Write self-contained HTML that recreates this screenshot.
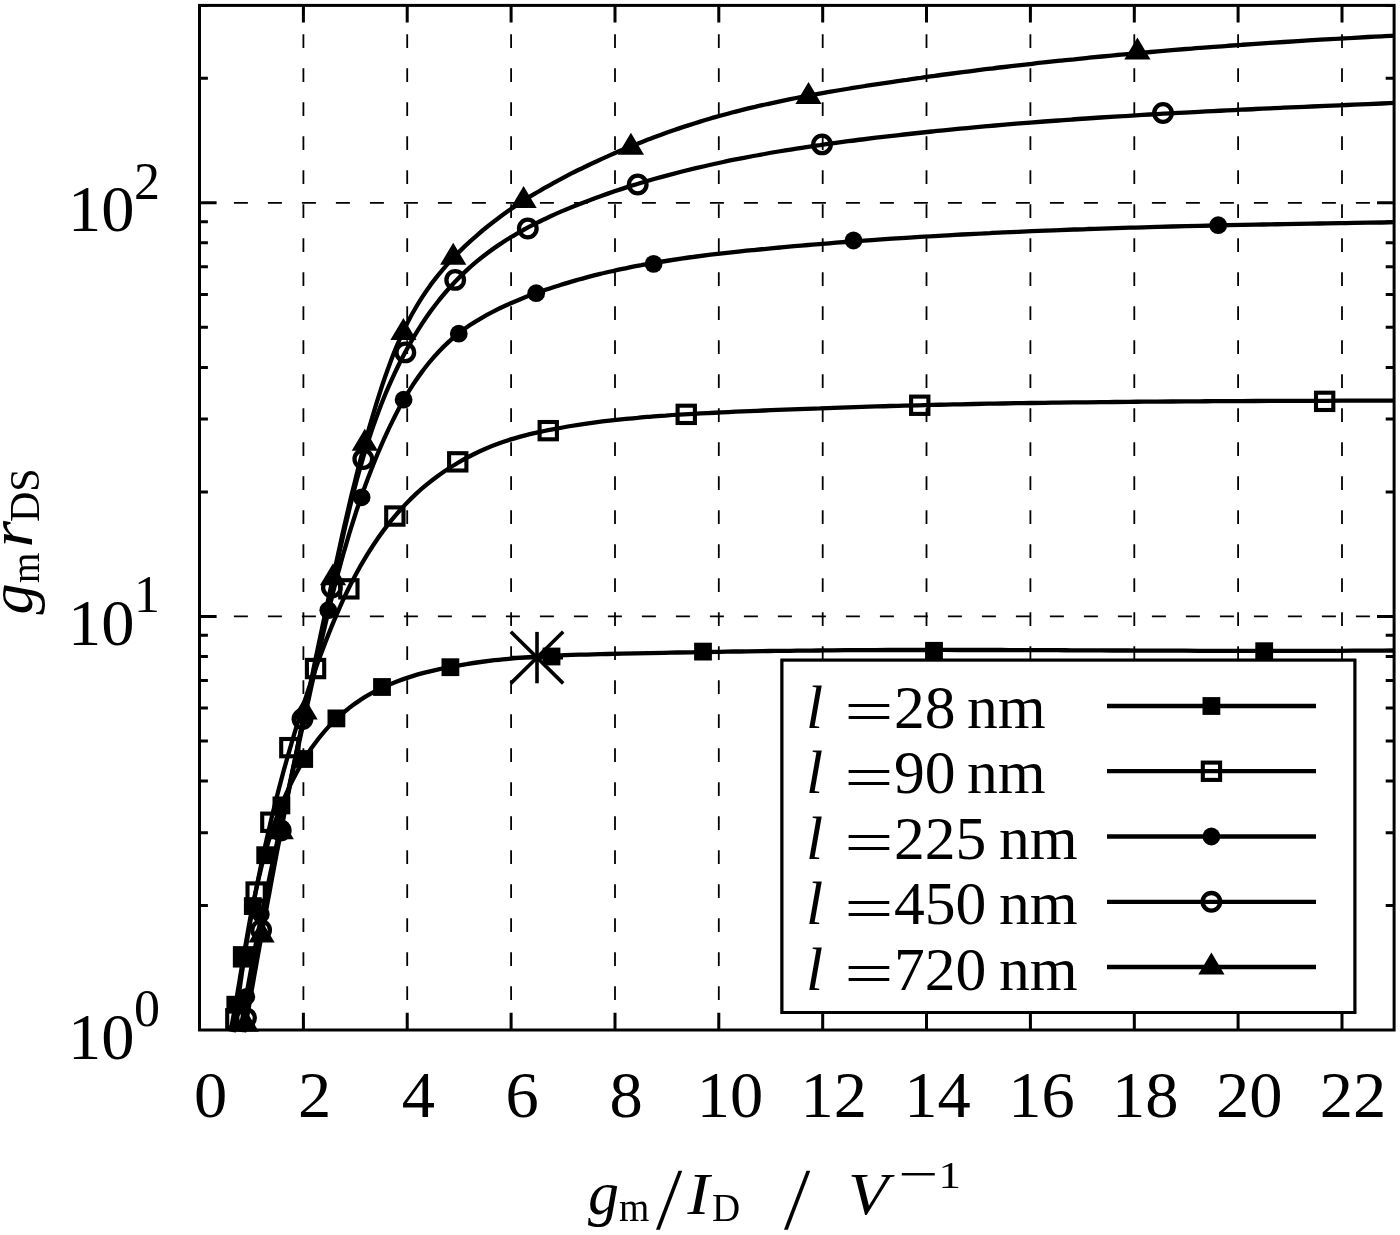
<!DOCTYPE html>
<html lang="en"><head><meta charset="utf-8"><title>gm rDS versus gm/ID</title>
<style>html,body{margin:0;padding:0;background:#fff}svg{display:block}text{font-family:"Liberation Serif",serif;fill:#000}.it{font-style:italic}</style></head><body>
<svg width="1400" height="1235" viewBox="0 0 1400 1235">
<rect x="0" y="0" width="1400" height="1235" fill="#fff"/>
<g stroke="#000" stroke-width="1.8" fill="none">
<g stroke-dasharray="13.8 20.2" stroke-dashoffset="5.1">
<path d="M303.4 5.4V1030"/>
<path d="M407.2 5.4V1030"/>
<path d="M511.1 5.4V1030"/>
<path d="M615 5.4V1030"/>
<path d="M718.8 5.4V1030"/>
<path d="M822.7 5.4V1030"/>
<path d="M926.5 5.4V1030"/>
<path d="M1030.4 5.4V1030"/>
<path d="M1134.3 5.4V1030"/>
<path d="M1238.1 5.4V1030"/>
<path d="M1342 5.4V1030"/>
</g><g stroke-dasharray="14 20">
<path d="M199.9 616.4H1394.1"/>
<path d="M199.9 202.8H1394.1"/>
</g></g>
<clipPath id="cp"><rect x="199.5" y="5.4" width="1194.6" height="1036.6"/></clipPath>
<g clip-path="url(#cp)">
<g stroke="#000" stroke-width="4.3" fill="none" stroke-linejoin="round">
<path d="M230.5 1031.6C231.4 1027 232.3 1022.5 233.1 1017.9C233.9 1013.3 234.8 1008.7 235.6 1004.1C236.4 999.5 237.2 994.9 237.9 990.3C238.7 985.7 239.5 981.1 240.2 976.5C241 971.8 241.8 967.2 242.5 962.6C243.3 957.9 244.1 953.3 244.9 948.7C245.7 944 246.5 939.4 247.3 934.8C248.1 930.2 248.9 925.5 249.8 920.9C250.6 916.3 251.5 911.7 252.4 907.1C253.4 902.5 254.3 897.9 255.3 893.3C256.3 888.7 257.3 884.1 258.4 879.5C259.5 874.9 260.6 870.4 261.7 865.8C262.9 861.3 264.1 856.7 265.4 852.2C266.7 847.7 268 843.1 269.4 838.7C270.8 834.2 272.3 829.7 273.9 825.2C275.4 820.8 277 816.3 278.7 811.9C280.4 807.5 282.2 803.1 284.1 798.7C285.9 794.4 287.9 790 289.9 785.7C292 781.4 294.1 777.2 296.4 773C298.6 768.8 300.9 764.7 303.4 760.7C305.8 756.6 308.4 752.7 311 748.8C313.7 745 316.5 741.2 319.4 737.5C322.3 733.9 325.3 730.3 328.5 726.9C331.6 723.5 334.9 720.2 338.3 717.1C341.7 714 345.2 711 348.9 708.2C352.5 705.3 356.3 702.6 360.2 700.1C364 697.5 368 695.1 372.1 692.9C376.2 690.6 380.4 688.6 384.6 686.6C388.9 684.7 393.2 682.9 397.6 681.2C402 679.5 406.5 678 411 676.6C415.5 675.2 420 673.9 424.6 672.7C429.2 671.5 433.9 670.4 438.5 669.4C443.1 668.3 447.8 667.4 452.5 666.5C457.1 665.6 461.8 664.8 466.5 664.1C471.1 663.3 475.8 662.6 480.5 662C485.2 661.4 489.9 660.8 494.5 660.2C499.2 659.7 503.9 659.2 508.6 658.8C513.3 658.3 518 657.9 522.7 657.6C527.4 657.2 532.1 656.9 536.8 656.6C541.5 656.3 546.2 656.1 550.9 655.8C555.6 655.6 560.3 655.4 565 655.2C569.7 655 574.4 654.9 579.1 654.7C583.8 654.6 588.5 654.5 593.2 654.3C597.9 654.2 602.6 654.1 607.3 654C612 653.9 616.7 653.8 621.3 653.7C626 653.6 630.7 653.5 635.4 653.4C640.1 653.3 644.8 653.2 649.5 653.1C654.2 653 658.9 652.9 663.6 652.8C668.3 652.7 673 652.6 677.7 652.5C682.3 652.4 687 652.3 691.7 652.3C696.4 652.2 701.1 652.1 705.8 652C710.5 651.9 715.2 651.8 719.8 651.8C724.5 651.7 729.2 651.6 733.9 651.5C738.6 651.5 743.3 651.4 748 651.3C752.6 651.2 757.3 651.2 762 651.1C766.7 651 771.4 651 776.1 650.9C780.8 650.9 785.4 650.8 790.1 650.8C794.8 650.7 799.5 650.7 804.2 650.6C808.9 650.6 813.6 650.5 818.3 650.5C823 650.4 827.6 650.4 832.3 650.3C837 650.3 841.7 650.3 846.4 650.2C851.1 650.2 855.8 650.2 860.5 650.2C865.2 650.1 869.9 650.1 874.6 650.1C879.3 650.1 883.9 650.1 888.6 650C893.3 650 898 650 902.7 650C907.4 650 912.1 650 916.8 650C921.5 650 926.2 650 930.9 650C935.6 649.9 940.3 649.9 945 649.9C949.7 649.9 954.4 649.9 959.1 650C963.8 650 968.5 650 973.2 650C977.9 650 982.6 650 987.3 650C992 650 996.7 650 1001.4 650C1006.1 650 1010.8 650.1 1015.5 650.1C1020.2 650.1 1024.9 650.1 1029.6 650.1C1034.3 650.1 1039 650.1 1043.7 650.2C1048.4 650.2 1053.1 650.2 1057.8 650.2C1062.5 650.2 1067.2 650.3 1071.9 650.3C1076.6 650.3 1081.3 650.3 1086 650.3C1090.7 650.4 1095.4 650.4 1100.1 650.4C1104.8 650.4 1109.5 650.4 1114.2 650.5C1118.9 650.5 1123.6 650.5 1128.3 650.5C1133 650.5 1137.7 650.6 1142.4 650.6C1147.2 650.6 1151.9 650.6 1156.6 650.6C1161.3 650.7 1166 650.7 1170.7 650.7C1175.4 650.7 1180.1 650.7 1184.8 650.7C1189.5 650.8 1194.2 650.8 1198.9 650.8C1203.6 650.8 1208.3 650.8 1213 650.8C1217.7 650.8 1222.3 650.9 1227 650.9C1231.7 650.9 1236.4 650.9 1241.1 650.9C1245.8 650.9 1250.5 650.9 1255.2 650.9C1259.9 650.9 1264.6 650.9 1269.3 650.9C1274 650.9 1278.7 650.9 1283.4 650.9C1288.1 650.9 1292.8 650.9 1297.5 650.9C1302.2 650.9 1306.9 650.9 1311.6 650.9C1316.3 650.9 1320.9 650.9 1325.6 650.9C1330.3 650.8 1335 650.8 1339.7 650.8C1344.4 650.8 1349.1 650.8 1353.8 650.7C1358.5 650.7 1363.2 650.7 1367.8 650.7C1372.5 650.6 1377.2 650.6 1381.9 650.6C1386.6 650.5 1391.3 650.5 1396 650.5"/>
<path d="M234 1032.3C234.6 1027.6 235.1 1022.8 235.7 1018.1C236.3 1013.4 237 1008.7 237.6 1004.1C238.2 999.4 238.8 994.7 239.5 990C240.2 985.3 240.8 980.7 241.5 976C242.2 971.4 242.9 966.7 243.6 962.1C244.3 957.4 245.1 952.8 245.8 948.1C246.5 943.5 247.3 938.9 248.1 934.3C248.9 929.7 249.7 925 250.5 920.4C251.3 915.8 252.1 911.2 252.9 906.6C253.8 902 254.7 897.5 255.5 892.9C256.4 888.3 257.3 883.7 258.2 879.1C259.1 874.6 260.1 870 261 865.4C262 860.9 262.9 856.3 263.9 851.8C264.9 847.2 265.9 842.7 266.9 838.1C268 833.6 269 829.1 270.1 824.5C271.1 820 272.2 815.5 273.3 810.9C274.4 806.4 275.6 801.9 276.7 797.4C277.8 792.9 279 788.4 280.2 783.9C281.4 779.3 282.6 774.8 283.8 770.3C285.1 765.8 286.3 761.3 287.6 756.8C288.9 752.3 290.2 747.9 291.5 743.4C292.8 738.9 294.1 734.4 295.5 729.9C296.9 725.4 298.3 720.9 299.7 716.5C301.1 712 302.5 707.5 304 703C305.4 698.6 306.9 694.1 308.4 689.6C309.9 685.1 311.5 680.7 313 676.2C314.6 671.7 316.1 667.3 317.7 662.8C319.4 658.3 321 653.9 322.7 649.4C324.3 645 326 640.5 327.8 636.1C329.5 631.7 331.3 627.3 333.1 622.9C334.9 618.5 336.8 614.2 338.7 609.8C340.6 605.5 342.5 601.2 344.5 596.9C346.6 592.7 348.6 588.4 350.7 584.2C352.9 580 355 575.9 357.3 571.7C359.5 567.6 361.8 563.6 364.2 559.6C366.6 555.6 369 551.6 371.6 547.7C374.1 543.8 376.7 540 379.3 536.2C382 532.4 384.8 528.7 387.6 525.1C390.4 521.4 393.4 517.9 396.4 514.4C399.4 510.9 402.5 507.5 405.7 504.1C408.9 500.8 412.2 497.5 415.5 494.4C418.9 491.2 422.4 488.1 426 485.2C429.6 482.2 433.3 479.3 437.1 476.5C440.9 473.8 444.7 471.1 448.7 468.5C452.6 465.9 456.7 463.5 460.7 461.1C464.8 458.8 469 456.6 473.2 454.5C477.5 452.3 481.8 450.3 486.1 448.5C490.4 446.6 494.8 444.9 499.3 443.3C503.7 441.7 508.2 440.2 512.7 438.9C517.2 437.5 521.7 436.3 526.3 435.1C530.8 433.9 535.4 432.9 540 431.9C544.6 430.9 549.2 429.9 553.8 429.1C558.4 428.2 563.1 427.3 567.7 426.5C572.3 425.8 576.9 425 581.6 424.3C586.2 423.6 590.8 423 595.5 422.3C600.1 421.7 604.8 421.2 609.4 420.6C614.1 420.1 618.7 419.6 623.4 419.1C628 418.6 632.7 418.2 637.4 417.8C642 417.3 646.7 417 651.4 416.6C656 416.2 660.7 415.9 665.4 415.6C670 415.2 674.7 414.9 679.4 414.7C684.1 414.4 688.8 414.1 693.4 413.8C698.1 413.6 702.8 413.3 707.5 413.1C712.2 412.9 716.8 412.6 721.5 412.4C726.2 412.2 730.9 411.9 735.6 411.7C740.3 411.5 744.9 411.3 749.6 411.1C754.3 410.9 759 410.7 763.7 410.5C768.4 410.3 773 410.1 777.7 409.9C782.4 409.7 787.1 409.5 791.8 409.3C796.4 409.1 801.1 409 805.8 408.8C810.5 408.6 815.2 408.4 819.9 408.3C824.5 408.1 829.2 407.9 833.9 407.8C838.6 407.6 843.3 407.5 847.9 407.3C852.6 407.2 857.3 407 862 406.9C866.7 406.7 871.4 406.6 876 406.4C880.7 406.3 885.4 406.2 890.1 406C894.8 405.9 899.4 405.8 904.1 405.6C908.8 405.5 913.5 405.4 918.2 405.3C922.9 405.2 927.5 405 932.2 404.9C936.9 404.8 941.6 404.7 946.3 404.6C951 404.5 955.6 404.4 960.3 404.3C965 404.2 969.7 404.1 974.4 404C979 403.9 983.7 403.8 988.4 403.7C993.1 403.7 997.8 403.6 1002.5 403.5C1007.1 403.4 1011.8 403.3 1016.5 403.2C1021.2 403.2 1025.9 403.1 1030.6 403C1035.2 402.9 1039.9 402.9 1044.6 402.8C1049.3 402.7 1054 402.7 1058.7 402.6C1063.3 402.5 1068 402.5 1072.7 402.4C1077.4 402.4 1082.1 402.3 1086.8 402.3C1091.4 402.2 1096.1 402.2 1100.8 402.1C1105.5 402.1 1110.2 402 1114.9 402C1119.5 401.9 1124.2 401.9 1128.9 401.8C1133.6 401.8 1138.3 401.7 1143 401.7C1147.6 401.7 1152.3 401.6 1157 401.6C1161.7 401.5 1166.4 401.5 1171.1 401.5C1175.7 401.4 1180.4 401.4 1185.1 401.4C1189.8 401.3 1194.5 401.3 1199.2 401.3C1203.9 401.3 1208.5 401.2 1213.2 401.2C1217.9 401.2 1222.6 401.2 1227.3 401.1C1232 401.1 1236.7 401.1 1241.3 401.1C1246 401 1250.7 401 1255.4 401C1260.1 401 1264.8 401 1269.5 400.9C1274.1 400.9 1278.8 400.9 1283.5 400.9C1288.2 400.9 1292.9 400.9 1297.6 400.8C1302.3 400.8 1307 400.8 1311.6 400.8C1316.3 400.8 1321 400.8 1325.7 400.8C1330.4 400.7 1335.1 400.7 1339.8 400.7C1344.5 400.7 1349.1 400.7 1353.8 400.7C1358.5 400.7 1363.2 400.7 1367.9 400.6C1372.6 400.6 1377.3 400.6 1382 400.6C1386.6 400.6 1391.3 400.6 1396 400.6"/>
<path d="M240.3 1031.9C241 1027.3 241.8 1022.7 242.5 1018.1C243.3 1013.5 244 1008.9 244.8 1004.3C245.6 999.7 246.4 995.1 247.2 990.5C248 985.9 248.8 981.3 249.7 976.8C250.5 972.2 251.4 967.6 252.2 963C253.1 958.4 254 953.8 254.8 949.2C255.7 944.7 256.6 940.1 257.5 935.5C258.4 930.9 259.3 926.3 260.3 921.8C261.2 917.2 262.1 912.6 263.1 908C264 903.5 264.9 898.9 265.9 894.3C266.9 889.7 267.8 885.2 268.8 880.6C269.8 876 270.7 871.4 271.7 866.9C272.7 862.3 273.7 857.7 274.7 853.2C275.7 848.6 276.7 844 277.7 839.5C278.7 834.9 279.7 830.3 280.7 825.8C281.7 821.2 282.7 816.6 283.7 812.1C284.7 807.5 285.7 802.9 286.7 798.4C287.7 793.8 288.8 789.3 289.8 784.7C290.8 780.1 291.8 775.6 292.8 771C293.8 766.4 294.9 761.9 295.9 757.3C296.9 752.8 297.9 748.2 298.9 743.6C299.9 739.1 300.9 734.5 301.9 730C302.9 725.4 303.9 720.8 304.9 716.3C305.9 711.7 306.9 707.2 307.9 702.6C308.9 698 309.9 693.5 310.9 688.9C311.9 684.4 312.9 679.8 313.9 675.2C314.9 670.7 315.9 666.1 316.9 661.6C317.9 657 318.9 652.5 319.9 647.9C321 643.4 322 638.8 323 634.3C324.1 629.8 325.1 625.2 326.2 620.7C327.3 616.2 328.4 611.6 329.5 607.1C330.6 602.6 331.7 598 332.8 593.5C333.9 589 335.1 584.5 336.3 580C337.4 575.5 338.6 571 339.9 566.5C341.1 562 342.3 557.5 343.6 553C344.9 548.5 346.2 544.1 347.5 539.6C348.8 535.1 350.2 530.6 351.6 526.2C353 521.7 354.4 517.3 355.8 512.8C357.3 508.4 358.8 504 360.3 499.5C361.9 495.1 363.4 490.7 365 486.3C366.6 481.9 368.3 477.5 370 473.1C371.6 468.7 373.4 464.3 375.1 460C376.9 455.6 378.7 451.2 380.6 446.9C382.5 442.5 384.4 438.2 386.4 433.9C388.3 429.6 390.4 425.3 392.5 421.1C394.6 416.9 396.7 412.7 398.9 408.5C401.2 404.4 403.5 400.3 405.9 396.2C408.2 392.2 410.7 388.2 413.2 384.4C415.8 380.5 418.4 376.7 421.2 372.9C423.9 369.2 426.7 365.6 429.6 362C432.5 358.5 435.6 355 438.7 351.7C441.8 348.4 445.1 345.2 448.4 342.1C451.8 339 455.3 336 458.9 333.2C462.5 330.4 466.2 327.7 470 325.1C473.8 322.5 477.8 320.1 481.8 317.8C485.8 315.4 489.9 313.2 494.1 311.1C498.2 308.9 502.5 306.9 506.8 305C511.1 303 515.4 301.2 519.8 299.4C524.2 297.6 528.6 295.9 533 294.3C537.4 292.6 541.9 291.1 546.3 289.5C550.8 288 555.3 286.6 559.7 285.2C564.2 283.8 568.7 282.4 573.2 281.1C577.7 279.8 582.2 278.6 586.7 277.4C591.2 276.2 595.8 275 600.3 273.9C604.8 272.8 609.4 271.8 613.9 270.8C618.5 269.7 623.1 268.8 627.6 267.8C632.2 266.9 636.8 266 641.4 265.2C645.9 264.3 650.5 263.5 655.1 262.7C659.7 261.9 664.3 261.2 668.9 260.5C673.6 259.8 678.2 259.1 682.8 258.4C687.4 257.7 692 257.1 696.7 256.5C701.3 255.9 705.9 255.3 710.6 254.7C715.2 254.2 719.8 253.6 724.5 253.1C729.1 252.6 733.8 252.1 738.4 251.6C743 251.1 747.7 250.6 752.3 250.2C757 249.7 761.6 249.2 766.3 248.8C770.9 248.4 775.6 247.9 780.2 247.5C784.9 247.1 789.6 246.6 794.2 246.2C798.9 245.8 803.5 245.4 808.2 245C812.8 244.6 817.5 244.2 822.1 243.9C826.8 243.5 831.4 243.1 836.1 242.7C840.7 242.4 845.4 242 850.1 241.7C854.7 241.3 859.4 241 864 240.6C868.7 240.3 873.3 240 878 239.6C882.7 239.3 887.3 239 892 238.7C896.6 238.4 901.3 238.1 906 237.8C910.6 237.5 915.3 237.2 919.9 236.9C924.6 236.6 929.3 236.3 933.9 236.1C938.6 235.8 943.2 235.5 947.9 235.3C952.6 235 957.2 234.8 961.9 234.5C966.5 234.3 971.2 234 975.9 233.8C980.5 233.5 985.2 233.3 989.9 233.1C994.5 232.8 999.2 232.6 1003.8 232.4C1008.5 232.2 1013.2 232 1017.8 231.8C1022.5 231.6 1027.2 231.4 1031.8 231.2C1036.5 231 1041.2 230.8 1045.8 230.6C1050.5 230.4 1055.2 230.2 1059.8 230.1C1064.5 229.9 1069.2 229.7 1073.8 229.5C1078.5 229.4 1083.1 229.2 1087.8 229C1092.5 228.9 1097.1 228.7 1101.8 228.6C1106.5 228.4 1111.2 228.3 1115.8 228.1C1120.5 228 1125.2 227.8 1129.8 227.7C1134.5 227.5 1139.2 227.4 1143.8 227.3C1148.5 227.1 1153.2 227 1157.8 226.9C1162.5 226.8 1167.2 226.6 1171.8 226.5C1176.5 226.4 1181.2 226.3 1185.8 226.2C1190.5 226.1 1195.2 225.9 1199.8 225.8C1204.5 225.7 1209.2 225.6 1213.9 225.5C1218.5 225.4 1223.2 225.3 1227.9 225.2C1232.5 225.1 1237.2 225 1241.9 224.9C1246.5 224.8 1251.2 224.7 1255.9 224.6C1260.6 224.5 1265.2 224.5 1269.9 224.4C1274.6 224.3 1279.2 224.2 1283.9 224.1C1288.6 224 1293.3 223.9 1297.9 223.9C1302.6 223.8 1307.3 223.7 1311.9 223.6C1316.6 223.5 1321.3 223.5 1326 223.4C1330.6 223.3 1335.3 223.2 1340 223.1C1344.6 223.1 1349.3 223 1354 222.9C1358.6 222.8 1363.3 222.8 1368 222.7C1372.7 222.6 1377.3 222.5 1382 222.5C1386.7 222.4 1391.3 222.3 1396 222.2"/>
<path d="M243.9 1032.2C244.6 1027.6 245.3 1022.9 246 1018.2C246.8 1013.5 247.5 1008.8 248.3 1004.2C249 999.5 249.8 994.8 250.6 990.2C251.3 985.5 252.1 980.9 252.9 976.2C253.7 971.6 254.5 966.9 255.3 962.3C256.1 957.6 256.9 953 257.7 948.4C258.5 943.7 259.4 939.1 260.2 934.5C261 929.9 261.9 925.2 262.7 920.6C263.6 916 264.4 911.4 265.3 906.8C266.1 902.2 267 897.5 267.9 892.9C268.8 888.3 269.6 883.7 270.5 879.1C271.4 874.5 272.3 869.9 273.2 865.3C274.1 860.7 275 856.1 275.9 851.5C276.8 846.9 277.8 842.4 278.7 837.8C279.6 833.2 280.5 828.6 281.5 824C282.4 819.4 283.3 814.8 284.3 810.2C285.2 805.7 286.1 801.1 287.1 796.5C288 791.9 289 787.3 289.9 782.8C290.9 778.2 291.9 773.6 292.8 769C293.8 764.4 294.8 759.8 295.7 755.3C296.7 750.7 297.7 746.1 298.6 741.5C299.6 737 300.6 732.4 301.6 727.8C302.6 723.2 303.5 718.6 304.5 714C305.5 709.5 306.5 704.9 307.5 700.3C308.5 695.7 309.5 691.1 310.4 686.5C311.4 682 312.4 677.4 313.4 672.8C314.4 668.2 315.4 663.6 316.4 659C317.4 654.4 318.4 649.8 319.4 645.2C320.4 640.6 321.4 636 322.4 631.4C323.4 626.8 324.4 622.2 325.4 617.6C326.4 613 327.4 608.4 328.4 603.8C329.3 599.2 330.3 594.6 331.3 590C332.3 585.3 333.3 580.7 334.3 576.1C335.3 571.5 336.3 566.9 337.3 562.2C338.3 557.6 339.3 553 340.3 548.4C341.4 543.7 342.4 539.1 343.4 534.5C344.5 529.9 345.5 525.3 346.6 520.7C347.7 516.1 348.8 511.5 349.9 506.9C351 502.3 352.2 497.7 353.4 493.2C354.5 488.6 355.7 484 356.9 479.5C358.2 474.9 359.4 470.4 360.7 465.9C362 461.4 363.4 456.8 364.7 452.3C366.1 447.9 367.5 443.4 369 438.9C370.4 434.5 371.9 430 373.4 425.6C375 421.2 376.6 416.8 378.2 412.4C379.9 408 381.5 403.7 383.3 399.3C385 395 386.8 390.7 388.7 386.4C390.6 382.1 392.5 377.9 394.5 373.6C396.5 369.4 398.5 365.2 400.6 361C402.8 356.8 404.9 352.7 407.2 348.6C409.5 344.5 411.8 340.4 414.2 336.4C416.6 332.3 419.1 328.3 421.6 324.4C424.2 320.5 426.8 316.6 429.5 312.8C432.3 308.9 435.1 305.2 438 301.5C440.8 297.8 443.8 294.2 446.9 290.7C449.9 287.2 453.1 283.7 456.3 280.4C459.6 277 462.9 273.8 466.3 270.6C469.7 267.4 473.3 264.3 476.8 261.4C480.4 258.4 484.1 255.5 487.8 252.7C491.6 249.9 495.4 247.2 499.3 244.6C503.1 242 507.1 239.5 511.1 237C515.1 234.6 519.2 232.3 523.3 230C527.4 227.7 531.6 225.5 535.8 223.4C540 221.3 544.2 219.2 548.5 217.2C552.8 215.2 557.1 213.3 561.5 211.4C565.8 209.6 570.2 207.8 574.6 206C579 204.2 583.4 202.5 587.8 200.9C592.2 199.2 596.7 197.6 601.1 196C605.6 194.4 610 192.9 614.5 191.3C619 189.8 623.4 188.4 627.9 186.9C632.4 185.5 636.9 184.1 641.4 182.8C645.9 181.4 650.4 180.1 654.9 178.8C659.4 177.5 663.9 176.3 668.5 175.1C673 173.9 677.5 172.7 682.1 171.5C686.6 170.4 691.2 169.3 695.8 168.2C700.3 167.1 704.9 166 709.5 165C714 164 718.6 163 723.2 162C727.8 161 732.4 160.1 737 159.2C741.6 158.3 746.2 157.4 750.8 156.5C755.4 155.6 760 154.8 764.6 154C769.2 153.1 773.8 152.3 778.5 151.5C783.1 150.8 787.7 150 792.3 149.3C797 148.5 801.6 147.8 806.2 147.1C810.9 146.4 815.5 145.7 820.2 145.1C824.8 144.4 829.5 143.7 834.1 143.1C838.8 142.5 843.4 141.8 848.1 141.2C852.7 140.6 857.4 140 862 139.5C866.7 138.9 871.4 138.3 876 137.7C880.7 137.2 885.3 136.6 890 136.1C894.7 135.6 899.3 135 904 134.5C908.7 134 913.3 133.5 918 133C922.7 132.5 927.3 132 932 131.5C936.7 131 941.3 130.5 946 130.1C950.7 129.6 955.4 129.2 960 128.7C964.7 128.3 969.4 127.8 974.1 127.4C978.7 127 983.4 126.5 988.1 126.1C992.8 125.7 997.4 125.3 1002.1 124.9C1006.8 124.5 1011.5 124.1 1016.1 123.7C1020.8 123.3 1025.5 123 1030.2 122.6C1034.9 122.2 1039.6 121.9 1044.2 121.5C1048.9 121.2 1053.6 120.8 1058.3 120.5C1063 120.1 1067.7 119.8 1072.3 119.5C1077 119.1 1081.7 118.8 1086.4 118.5C1091.1 118.2 1095.8 117.8 1100.5 117.5C1105.1 117.2 1109.8 116.9 1114.5 116.6C1119.2 116.3 1123.9 116 1128.6 115.8C1133.3 115.5 1138 115.2 1142.6 114.9C1147.3 114.6 1152 114.4 1156.7 114.1C1161.4 113.8 1166.1 113.6 1170.8 113.3C1175.5 113.1 1180.2 112.8 1184.9 112.6C1189.5 112.3 1194.2 112.1 1198.9 111.8C1203.6 111.6 1208.3 111.3 1213 111.1C1217.7 110.9 1222.4 110.6 1227.1 110.4C1231.8 110.2 1236.5 109.9 1241.2 109.7C1245.9 109.5 1250.5 109.3 1255.2 109C1259.9 108.8 1264.6 108.6 1269.3 108.4C1274 108.2 1278.7 108 1283.4 107.7C1288.1 107.5 1292.8 107.3 1297.5 107.1C1302.2 106.9 1306.9 106.7 1311.6 106.5C1316.2 106.3 1320.9 106.1 1325.6 105.9C1330.3 105.7 1335 105.5 1339.7 105.3C1344.4 105.1 1349.1 104.9 1353.8 104.7C1358.5 104.5 1363.2 104.3 1367.9 104.1C1372.5 103.9 1377.2 103.7 1381.9 103.5C1386.6 103.3 1391.3 103.1 1396 102.9"/>
<path d="M244.5 1032C245.3 1027.4 246.1 1022.8 246.9 1018.2C247.7 1013.6 248.5 1009 249.3 1004.3C250.1 999.7 250.9 995.1 251.7 990.5C252.5 985.9 253.3 981.3 254.1 976.7C254.9 972.1 255.8 967.5 256.6 962.9C257.4 958.3 258.2 953.7 259.1 949.1C259.9 944.5 260.7 939.9 261.6 935.3C262.4 930.7 263.2 926 264.1 921.4C264.9 916.8 265.8 912.2 266.6 907.6C267.5 903 268.3 898.4 269.2 893.8C270 889.2 270.9 884.6 271.7 880C272.6 875.4 273.5 870.8 274.3 866.2C275.2 861.6 276.1 857 276.9 852.4C277.8 847.8 278.7 843.2 279.6 838.6C280.5 834 281.3 829.4 282.2 824.8C283.1 820.3 284 815.7 284.9 811.1C285.8 806.5 286.7 801.9 287.6 797.3C288.5 792.7 289.4 788.1 290.3 783.5C291.2 778.9 292.1 774.3 293 769.7C293.9 765.1 294.8 760.5 295.8 755.9C296.7 751.4 297.6 746.8 298.5 742.2C299.4 737.6 300.4 733 301.3 728.4C302.2 723.8 303.2 719.2 304.1 714.7C305 710.1 306 705.5 306.9 700.9C307.8 696.3 308.8 691.7 309.7 687.2C310.7 682.6 311.6 678 312.6 673.4C313.5 668.8 314.5 664.3 315.4 659.7C316.4 655.1 317.4 650.5 318.3 645.9C319.3 641.4 320.3 636.8 321.2 632.2C322.2 627.6 323.2 623.1 324.1 618.5C325.1 613.9 326.1 609.4 327.1 604.8C328 600.2 329 595.6 330 591.1C331 586.5 332 581.9 333 577.4C334 572.8 335 568.2 336 563.7C337 559.1 338 554.5 339 550C340 545.4 341 540.9 342 536.3C343 531.7 344.1 527.2 345.1 522.6C346.2 518.1 347.2 513.5 348.3 509C349.3 504.4 350.4 499.9 351.5 495.3C352.6 490.8 353.7 486.2 354.9 481.7C356 477.2 357.1 472.6 358.3 468.1C359.5 463.6 360.6 459 361.8 454.5C363.1 450 364.3 445.4 365.5 440.9C366.8 436.4 368 431.9 369.3 427.4C370.6 422.9 372 418.4 373.3 413.9C374.7 409.3 376 404.8 377.4 400.3C378.8 395.8 380.3 391.4 381.7 386.9C383.2 382.4 384.7 377.9 386.3 373.5C387.9 369 389.5 364.6 391.1 360.2C392.8 355.8 394.5 351.4 396.3 347.1C398.1 342.8 400 338.5 401.9 334.3C403.9 330 405.9 325.8 408 321.7C410.1 317.6 412.3 313.5 414.7 309.5C417 305.4 419.4 301.5 421.9 297.6C424.4 293.7 427 289.9 429.7 286.2C432.4 282.4 435.3 278.8 438.2 275.2C441.1 271.6 444.1 268 447.1 264.6C450.2 261.1 453.4 257.7 456.6 254.4C459.9 251.1 463.2 247.8 466.6 244.6C470 241.4 473.5 238.3 477 235.3C480.5 232.2 484.1 229.2 487.8 226.3C491.4 223.4 495.1 220.5 498.9 217.7C502.6 214.9 506.5 212.2 510.3 209.5C514.2 206.8 518.1 204.2 522 201.7C526 199.1 529.9 196.6 534 194.2C538 191.8 542 189.4 546.1 187.1C550.2 184.8 554.3 182.5 558.4 180.3C562.6 178.1 566.8 175.9 570.9 173.7C575.1 171.6 579.3 169.5 583.6 167.5C587.8 165.4 592 163.4 596.3 161.5C600.5 159.5 604.8 157.5 609.1 155.6C613.4 153.8 617.7 151.9 622 150.1C626.3 148.3 630.6 146.5 634.9 144.7C639.3 143 643.6 141.3 648 139.6C652.3 137.9 656.7 136.3 661.1 134.7C665.5 133.1 669.9 131.6 674.3 130C678.7 128.5 683.1 127 687.6 125.6C692 124.2 696.5 122.8 700.9 121.4C705.4 120 709.9 118.7 714.3 117.4C718.8 116.2 723.3 114.9 727.8 113.7C732.3 112.5 736.8 111.3 741.4 110.2C745.9 109 750.4 107.9 755 106.9C759.5 105.8 764.1 104.8 768.6 103.8C773.2 102.8 777.8 101.8 782.3 100.8C786.9 99.9 791.5 98.9 796.1 98C800.7 97.1 805.3 96.3 809.9 95.4C814.5 94.6 819.1 93.7 823.7 92.9C828.3 92.1 832.9 91.3 837.5 90.5C842.2 89.7 846.8 89 851.4 88.2C856 87.5 860.6 86.7 865.3 86C869.9 85.3 874.5 84.6 879.2 83.9C883.8 83.2 888.4 82.5 893.1 81.8C897.7 81.1 902.3 80.4 907 79.8C911.6 79.1 916.2 78.4 920.9 77.8C925.5 77.1 930.1 76.5 934.8 75.9C939.4 75.2 944 74.6 948.7 74C953.3 73.4 957.9 72.8 962.6 72.2C967.2 71.6 971.9 71 976.5 70.4C981.2 69.8 985.8 69.2 990.4 68.7C995.1 68.1 999.7 67.5 1004.4 67C1009 66.4 1013.7 65.9 1018.3 65.3C1022.9 64.8 1027.6 64.3 1032.2 63.8C1036.9 63.2 1041.5 62.7 1046.2 62.2C1050.8 61.7 1055.5 61.2 1060.1 60.7C1064.8 60.2 1069.4 59.7 1074.1 59.3C1078.7 58.8 1083.4 58.3 1088 57.8C1092.7 57.4 1097.4 56.9 1102 56.5C1106.7 56 1111.3 55.6 1116 55.1C1120.6 54.7 1125.3 54.3 1129.9 53.8C1134.6 53.4 1139.3 53 1143.9 52.6C1148.6 52.2 1153.2 51.8 1157.9 51.4C1162.5 51 1167.2 50.6 1171.9 50.2C1176.5 49.8 1181.2 49.4 1185.9 49C1190.5 48.7 1195.2 48.3 1199.8 47.9C1204.5 47.6 1209.2 47.2 1213.8 46.9C1218.5 46.5 1223.2 46.1 1227.8 45.8C1232.5 45.5 1237.2 45.1 1241.8 44.8C1246.5 44.5 1251.2 44.1 1255.8 43.8C1260.5 43.5 1265.2 43.2 1269.8 42.9C1274.5 42.6 1279.2 42.3 1283.9 42C1288.5 41.7 1293.2 41.4 1297.9 41.1C1302.5 40.8 1307.2 40.5 1311.9 40.2C1316.6 39.9 1321.2 39.6 1325.9 39.4C1330.6 39.1 1335.3 38.8 1339.9 38.6C1344.6 38.3 1349.3 38 1354 37.8C1358.6 37.5 1363.3 37.3 1368 37C1372.7 36.8 1377.3 36.5 1382 36.3C1386.7 36 1391.4 35.8 1396.1 35.6"/>
</g>
<rect x="226.4" y="995.8" width="17.8" height="17.8" fill="#000"/>
<rect x="234.1" y="948" width="17.8" height="17.8" fill="#000"/>
<rect x="243.9" y="897.2" width="17.8" height="17.8" fill="#000"/>
<rect x="256.3" y="846.3" width="17.8" height="17.8" fill="#000"/>
<rect x="272.5" y="796.5" width="17.8" height="17.8" fill="#000"/>
<rect x="295.3" y="750.1" width="17.8" height="17.8" fill="#000"/>
<rect x="327.5" y="709.5" width="17.8" height="17.8" fill="#000"/>
<rect x="373.1" y="678.1" width="17.8" height="17.8" fill="#000"/>
<rect x="441.5" y="658.3" width="17.8" height="17.8" fill="#000"/>
<rect x="542.6" y="647.6" width="17.8" height="17.8" fill="#000"/>
<rect x="694.1" y="642.7" width="17.8" height="17.8" fill="#000"/>
<rect x="925.1" y="641.9" width="17.8" height="17.8" fill="#000"/>
<rect x="1255.3" y="642.3" width="17.8" height="17.8" fill="#000"/>
<rect x="227.2" y="1010.1" width="17.3" height="17.3" fill="none" stroke="#000" stroke-width="4.1"/>
<rect x="234.9" y="948.2" width="17.3" height="17.3" fill="none" stroke="#000" stroke-width="4.1"/>
<rect x="247.5" y="883.4" width="17.3" height="17.3" fill="none" stroke="#000" stroke-width="4.1"/>
<rect x="262.2" y="813.6" width="17.3" height="17.3" fill="none" stroke="#000" stroke-width="4.1"/>
<rect x="281.2" y="739" width="17.3" height="17.3" fill="none" stroke="#000" stroke-width="4.1"/>
<rect x="306.9" y="659.9" width="17.3" height="17.3" fill="none" stroke="#000" stroke-width="4.1"/>
<rect x="340.2" y="580.2" width="17.3" height="17.3" fill="none" stroke="#000" stroke-width="4.1"/>
<rect x="386.2" y="507.4" width="17.3" height="17.3" fill="none" stroke="#000" stroke-width="4.1"/>
<rect x="449.1" y="453.2" width="17.3" height="17.3" fill="none" stroke="#000" stroke-width="4.1"/>
<rect x="539.6" y="422" width="17.3" height="17.3" fill="none" stroke="#000" stroke-width="4.1"/>
<rect x="677.6" y="405.7" width="17.3" height="17.3" fill="none" stroke="#000" stroke-width="4.1"/>
<rect x="911.1" y="396.6" width="17.3" height="17.3" fill="none" stroke="#000" stroke-width="4.1"/>
<rect x="1316" y="392.7" width="17.3" height="17.3" fill="none" stroke="#000" stroke-width="4.1"/>
<circle cx="246.3" cy="996.8" r="8.9" fill="#000"/>
<circle cx="260.8" cy="914.3" r="8.9" fill="#000"/>
<circle cx="281.3" cy="828.5" r="8.9" fill="#000"/>
<circle cx="304.5" cy="716" r="8.9" fill="#000"/>
<circle cx="328.3" cy="610.2" r="8.9" fill="#000"/>
<circle cx="361.6" cy="497.3" r="8.9" fill="#000"/>
<circle cx="403.6" cy="399.7" r="8.9" fill="#000"/>
<circle cx="458.8" cy="333.7" r="8.9" fill="#000"/>
<circle cx="536.2" cy="293.2" r="8.9" fill="#000"/>
<circle cx="653.6" cy="263.9" r="8.9" fill="#000"/>
<circle cx="853.5" cy="240.5" r="8.9" fill="#000"/>
<circle cx="1218.2" cy="225.2" r="8.9" fill="#000"/>
<circle cx="246" cy="1018.1" r="8.8" fill="none" stroke="#000" stroke-width="4.3"/>
<circle cx="261.1" cy="929.9" r="8.8" fill="none" stroke="#000" stroke-width="4.3"/>
<circle cx="280.7" cy="830.5" r="8.8" fill="none" stroke="#000" stroke-width="4.3"/>
<circle cx="302.5" cy="719" r="8.8" fill="none" stroke="#000" stroke-width="4.3"/>
<circle cx="331.9" cy="587.6" r="8.8" fill="none" stroke="#000" stroke-width="4.3"/>
<circle cx="363.3" cy="459.1" r="8.8" fill="none" stroke="#000" stroke-width="4.3"/>
<circle cx="405.3" cy="352.4" r="8.8" fill="none" stroke="#000" stroke-width="4.3"/>
<circle cx="455.2" cy="279.9" r="8.8" fill="none" stroke="#000" stroke-width="4.3"/>
<circle cx="527.8" cy="228.5" r="8.8" fill="none" stroke="#000" stroke-width="4.3"/>
<circle cx="637.7" cy="184.5" r="8.8" fill="none" stroke="#000" stroke-width="4.3"/>
<circle cx="822" cy="144.4" r="8.8" fill="none" stroke="#000" stroke-width="4.3"/>
<circle cx="1163" cy="113" r="8.8" fill="none" stroke="#000" stroke-width="4.3"/>
<path d="M245.8 1009.8L258.9 1031.8L232.7 1031.8Z" fill="#000"/>
<path d="M261.6 920.5L274.7 942.5L248.5 942.5Z" fill="#000"/>
<path d="M280.8 817.3L293.9 839.3L267.7 839.3Z" fill="#000"/>
<path d="M304.6 697.6L317.7 719.6L291.5 719.6Z" fill="#000"/>
<path d="M333 563.2L346.1 585.2L319.9 585.2Z" fill="#000"/>
<path d="M364.8 428.8L377.9 450.8L351.7 450.8Z" fill="#000"/>
<path d="M403.4 318L416.5 340L390.3 340Z" fill="#000"/>
<path d="M453.2 242.7L466.3 264.7L440.1 264.7Z" fill="#000"/>
<path d="M523.6 186.1L536.7 208.1L510.5 208.1Z" fill="#000"/>
<path d="M630.9 132.7L644 154.7L617.8 154.7Z" fill="#000"/>
<path d="M808.5 81.9L821.6 103.9L795.4 103.9Z" fill="#000"/>
<path d="M1137.4 37.6L1150.5 59.6L1124.3 59.6Z" fill="#000"/>
</g>
<g stroke="#000" stroke-width="3.6" fill="none">
<path d="M537 631.9V683.3"/>
<path d="M510.8 631.8L563.2 683.4"/>
<path d="M510.8 683.4L563.2 631.8"/>
<path d="M511 657.6H563"/>
</g>
<rect x="782" y="660.2" width="572.8" height="352.3" fill="#fff" stroke="#000" stroke-width="3"/>
<g stroke="#000" stroke-width="3.0" fill="none">
<rect x="199.5" y="5.4" width="1194.6" height="1024.6"/>
<path d="M303.4 1030v-17.2M303.4 5.4v17.2M407.2 1030v-17.2M407.2 5.4v17.2M511.1 1030v-17.2M511.1 5.4v17.2M615 1030v-17.2M615 5.4v17.2M718.8 1030v-17.2M718.8 5.4v17.2M822.7 1030v-17.2M822.7 5.4v17.2M926.5 1030v-17.2M926.5 5.4v17.2M1030.4 1030v-17.2M1030.4 5.4v17.2M1134.3 1030v-17.2M1134.3 5.4v17.2M1238.1 1030v-17.2M1238.1 5.4v17.2M1342 1030v-17.2M1342 5.4v17.2M199.5 905.5h8.4M1394.1 905.5h-8.4M199.5 832.7h8.4M1394.1 832.7h-8.4M199.5 781h8.4M1394.1 781h-8.4M199.5 740.9h8.4M1394.1 740.9h-8.4M199.5 708.1h8.4M1394.1 708.1h-8.4M199.5 680.5h8.4M1394.1 680.5h-8.4M199.5 656.5h8.4M1394.1 656.5h-8.4M199.5 635.3h8.4M1394.1 635.3h-8.4M199.5 616.4h17.1M1394.1 616.4h-17.1M199.5 491.9h8.4M1394.1 491.9h-8.4M199.5 419h8.4M1394.1 419h-8.4M199.5 367.4h8.4M1394.1 367.4h-8.4M199.5 327.3h8.4M1394.1 327.3h-8.4M199.5 294.5h8.4M1394.1 294.5h-8.4M199.5 266.8h8.4M1394.1 266.8h-8.4M199.5 242.8h8.4M1394.1 242.8h-8.4M199.5 221.7h8.4M1394.1 221.7h-8.4M199.5 202.8h17.1M1394.1 202.8h-17.1M199.5 78.2h8.4M1394.1 78.2h-8.4M199.5 5.4h8.4M1394.1 5.4h-8.4"/>
</g>
<rect x="782" y="660.2" width="572.8" height="352.3" fill="#fff" stroke="#000" stroke-width="3"/>
<text class="it" x="806" y="727.7" font-size="61.6">l</text>
<text transform="translate(844.2 732.1) scale(1.42 1)" font-size="61.6">=</text>
<text x="894" y="727.7" font-size="61.6">28</text>
<text x="967" y="727.7" font-size="61.6">nm</text>
<path d="M1107 706H1316" stroke="#000" stroke-width="4.3" fill="none"/>
<rect x="1202.5" y="697.1" width="17.8" height="17.8" fill="#000"/>
<text class="it" x="806" y="793.2" font-size="61.6">l</text>
<text transform="translate(844.2 797.6) scale(1.42 1)" font-size="61.6">=</text>
<text x="894" y="793.2" font-size="61.6">90</text>
<text x="967" y="793.2" font-size="61.6">nm</text>
<path d="M1107 771.2H1316" stroke="#000" stroke-width="4.3" fill="none"/>
<rect x="1202.8" y="762.6" width="17.3" height="17.3" fill="none" stroke="#000" stroke-width="4.1"/>
<text class="it" x="806" y="858.6" font-size="61.6">l</text>
<text transform="translate(844.2 863) scale(1.42 1)" font-size="61.6">=</text>
<text x="894" y="858.6" font-size="61.6">225</text>
<text x="999" y="858.6" font-size="61.6">nm</text>
<path d="M1107 836.5H1316" stroke="#000" stroke-width="4.3" fill="none"/>
<circle cx="1211.4" cy="836.5" r="8.9" fill="#000"/>
<text class="it" x="806" y="924.1" font-size="61.6">l</text>
<text transform="translate(844.2 928.5) scale(1.42 1)" font-size="61.6">=</text>
<text x="894" y="924.1" font-size="61.6">450</text>
<text x="999" y="924.1" font-size="61.6">nm</text>
<path d="M1107 901.8H1316" stroke="#000" stroke-width="4.3" fill="none"/>
<circle cx="1211.4" cy="901.8" r="8.8" fill="none" stroke="#000" stroke-width="4.3"/>
<text class="it" x="806" y="989.5" font-size="61.6">l</text>
<text transform="translate(844.2 993.9) scale(1.42 1)" font-size="61.6">=</text>
<text x="894" y="989.5" font-size="61.6">720</text>
<text x="999" y="989.5" font-size="61.6">nm</text>
<path d="M1107 967H1316" stroke="#000" stroke-width="4.3" fill="none"/>
<path d="M1211.4 952.6L1224.5 974.6L1198.3 974.6Z" fill="#000"/>
<text x="210.6" y="1117.1" font-size="66.5" text-anchor="middle">0</text>
<text x="314.5" y="1117.1" font-size="66.5" text-anchor="middle">2</text>
<text x="418.3" y="1117.1" font-size="66.5" text-anchor="middle">4</text>
<text x="522.2" y="1117.1" font-size="66.5" text-anchor="middle">6</text>
<text x="626" y="1117.1" font-size="66.5" text-anchor="middle">8</text>
<text x="729.9" y="1117.1" font-size="66.5" text-anchor="middle">10</text>
<text x="833.8" y="1117.1" font-size="66.5" text-anchor="middle">12</text>
<text x="937.6" y="1117.1" font-size="66.5" text-anchor="middle">14</text>
<text x="1041.5" y="1117.1" font-size="66.5" text-anchor="middle">16</text>
<text x="1145.3" y="1117.1" font-size="66.5" text-anchor="middle">18</text>
<text x="1249.2" y="1117.1" font-size="66.5" text-anchor="middle">20</text>
<text x="1353.1" y="1117.1" font-size="66.5" text-anchor="middle">22</text>
<text x="68" y="231.3" font-size="66.5">10</text>
<text x="134" y="198.5" font-size="52">2</text>
<text x="68" y="644.9" font-size="66.5">10</text>
<text x="134" y="612.1" font-size="52">1</text>
<text x="68" y="1058.5" font-size="66.5">10</text>
<text x="134" y="1025.7" font-size="52">0</text>
<text class="it" x="588" y="1214.4" font-size="62">g</text>
<text x="619" y="1221.3" font-size="39">m</text>
<text transform="translate(656 1229) skewX(-4) scale(2.0 2.21)" font-size="40">/</text>
<text class="it" transform="translate(687.5 1214.4) scale(1.1 1)" font-size="60">I</text>
<text x="712" y="1221.3" font-size="39">D</text>
<text transform="translate(784 1229) skewX(-4) scale(2.0 2.21)" font-size="40">/</text>
<text class="it" transform="translate(848 1214.4) scale(1.1 1)" font-size="60">V</text>
<text transform="translate(898 1191.3) scale(1.42 1)" font-size="50">−</text>
<text transform="translate(938.5 1187.7) scale(1.15 1)" font-size="39">1</text>
<g transform="translate(31.6 614.5) rotate(-90)">
<text class="it" x="0" y="0" font-size="62">g</text>
<text x="31.5" y="7.3" font-size="39">m</text>
<text class="it" transform="translate(67 0) scale(1.1 1)" font-size="62">r</text>
<text x="92.4" y="7.3" font-size="42">DS</text>
</g>
</svg></body></html>
